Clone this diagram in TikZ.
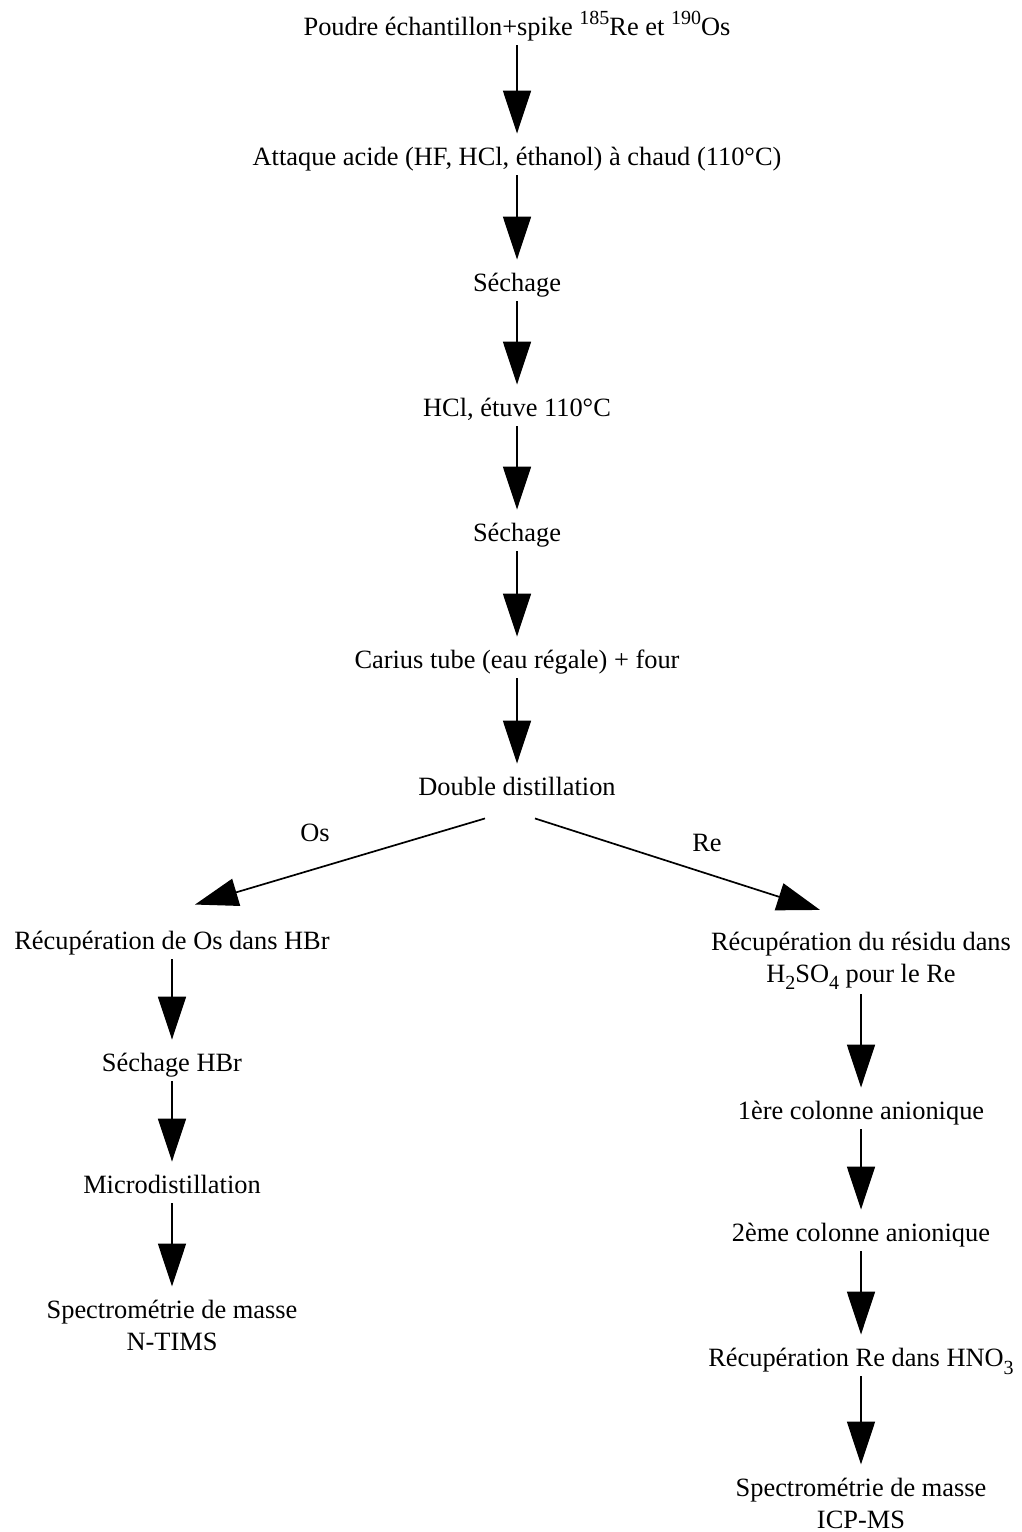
\documentclass[tikz,border=0pt]{standalone}
\usepackage{fontspec}
\setmainfont{Liberation Serif}
\usetikzlibrary{arrows.meta}
\newcommand{\isosup}[1]{\raisebox{0.42em}{\fontsize{20}{20}\selectfont #1}}
\newcommand{\chemsub}[1]{\raisebox{-0.28em}{\fontsize{20}{20}\selectfont #1}}
\begin{document}
\begin{tikzpicture}[x=1pt,y=-1pt,
    stage/.style={font=\fontsize{26.4}{32}\selectfont,inner sep=3pt,text height=19pt,text depth=5.5pt},
    stagetwo/.style={font=\fontsize{26.4}{32}\selectfont,inner sep=3pt,align=center},
    branch/.style={font=\fontsize{26.4}{32}\selectfont,inner sep=0pt},
    flow/.style={line width=1.7pt,-{Triangle[width=28pt,length=43pt]},shorten <=1pt,shorten >=10pt}]
  \useasboundingbox (0,0) rectangle (1022,1532);
  % main column
  \node[stage] (poudre) at (517,29) {Poudre échantillon+spike \isosup{185}Re et \isosup{190}Os};
  \node[stage] (attaque) at (517,159) {Attaque acide (HF, HCl, éthanol) à chaud (110°C)};
  \node[stage] (sechA) at (517,285) {Séchage};
  \node[stage] (hcl) at (517,410) {HCl, étuve 110°C};
  \node[stage] (sechB) at (517,535) {Séchage};
  \node[stage] (carius) at (517,662) {Carius tube (eau régale) + four};
  \node[stage] (distil) at (517,789) {Double distillation};
  \draw[flow] (poudre) -- (attaque);
  \draw[flow] (attaque) -- (sechA);
  \draw[flow] (sechA) -- (hcl);
  \draw[flow] (hcl) -- (sechB);
  \draw[flow] (sechB) -- (carius);
  \draw[flow] (carius) -- (distil);
  % Os branch
  \node[stage] (recOs) at (172,943) {Récupération de Os dans HBr};
  \node[stage] (sechHBr) at (172,1065) {Séchage HBr};
  \node[stage] (micro) at (172,1187) {Microdistillation};
  \node[stagetwo] (tims) at (172,1325) {Spectrométrie de masse\\N-TIMS};
  \draw[flow,shorten <=0pt,shorten >=0pt] ([xshift=-32pt,yshift=-14pt]distil.south) -- ([xshift=23pt,yshift=23pt]recOs.north);
  \node[branch] (labOs) at (315,833) {Os};
  \draw[flow] (recOs) -- (sechHBr);
  \draw[flow] (sechHBr) -- (micro);
  \draw[flow] (micro) -- (tims);
  % Re branch
  \node[stagetwo] (recRe) at (861,961) {Récupération du résidu dans\\H\chemsub{2}SO\chemsub{4} pour le Re};
  \node[stage] (colA) at (861,1113) {1ère colonne anionique};
  \node[stage] (colB) at (861,1235) {2ème colonne anionique};
  \node[stage] (recHNO) at (861,1360) {Récupération Re dans HNO\chemsub{3}};
  \node[stagetwo] (icp) at (861,1503) {Spectrométrie de masse\\ICP-MS};
  \draw[flow,shorten <=0pt,shorten >=0pt] ([xshift=18pt,yshift=-14pt]distil.south) -- ([xshift=-41pt,yshift=19pt]recRe.north);
  \node[branch] (labRe) at (707,843) {Re};
  \draw[flow] (recRe) -- (colA);
  \draw[flow] (colA) -- (colB);
  \draw[flow] (colB) -- (recHNO);
  \draw[flow] (recHNO) -- (icp);
\end{tikzpicture}
\end{document}
